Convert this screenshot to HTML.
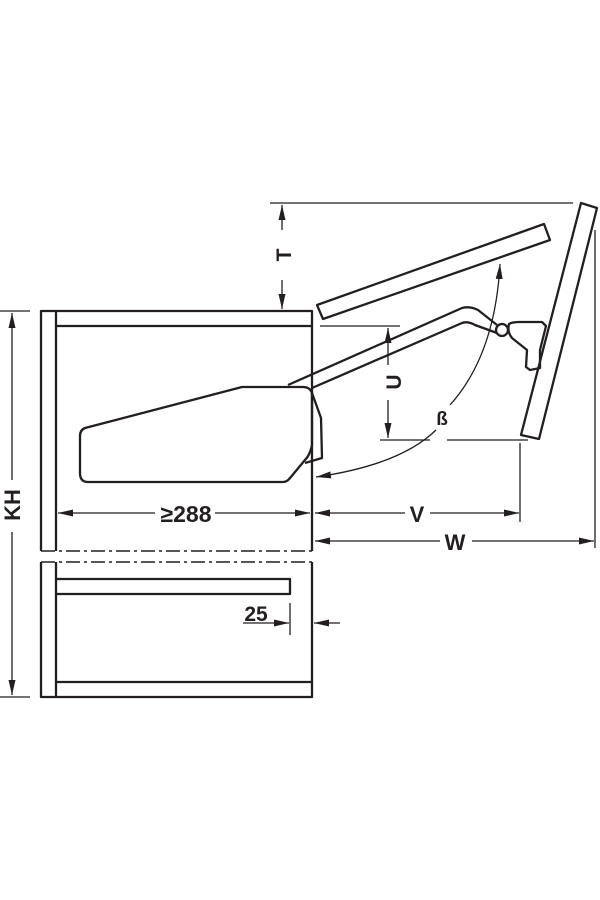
<!DOCTYPE html>
<html><head><meta charset="utf-8"><style>
html,body{margin:0;padding:0;background:#fff;}
svg{display:block;}
text{font-family:"Liberation Sans",sans-serif;font-weight:bold;fill:#231f20;}
</style></head><body>
<svg width="600" height="900" viewBox="0 0 600 900" xmlns="http://www.w3.org/2000/svg">
<defs>
<marker id="a" markerWidth="15" markerHeight="7" refX="15" refY="3.5" orient="auto" markerUnits="userSpaceOnUse">
<path d="M0,0 L15,3.5 L0,7 Z" fill="#231f20"/></marker>
</defs>
<g stroke="#231f20" fill="none" stroke-width="2.3" stroke-linejoin="round">
<path d="M41,551 L41,311 L312,311 L312,551"/>
<line x1="56" y1="311" x2="56" y2="551"/>
<line x1="56" y1="326" x2="312" y2="326"/>
<line x1="41" y1="551" x2="312" y2="551" stroke-dasharray="14,4,3,4" stroke-width="1.5"/>
<path d="M41,562 L41,697 L312,697 L312,562"/>
<line x1="41" y1="562" x2="312" y2="562" stroke-dasharray="14,4,3,4" stroke-width="1.5"/>
<line x1="56" y1="562" x2="56" y2="697"/>
<line x1="56" y1="682" x2="312" y2="682"/>
<path d="M56,579 L290,579 L290,594 L56,594"/>
<path d="M85,428 Q80,430 80,436 L80,473 Q80,482 88,482 L283,482 Q287,482 290,478 L305,460 Q310,455 312,445 L312,393 Q310,387 303,387 L242,387 Z"/>
<path d="M312,393 L321,418 L322,458 L305,463"/>
<path d="M288,385 L462,308 Q470,306 478,310 L497,325"/>
<path d="M312,388 L462,323 Q468,321 475,325 L497,333"/>
<circle cx="502" cy="330" r="6"/>
<path d="M509,324 Q512,322 520,322 L542,322 L546,326 L540,350 L540,368 L530,370 L526,367 L527,350 L512,338 Q507,332 509,324 Z"/>
<path d="M317,305 L544,224 L550,240 L323,319 Z"/>
<path d="M581,203 L597,208 L539,439 L521,435 Z"/>
</g>
<g stroke="#231f20" fill="none" stroke-width="1.3">
<line x1="270" y1="203" x2="573" y2="203"/>
<line x1="282" y1="230" x2="282" y2="205" marker-end="url(#a)"/>
<line x1="282" y1="280" x2="282" y2="309" marker-end="url(#a)"/>
<line x1="320" y1="326" x2="400" y2="326"/>
<line x1="380" y1="440" x2="430" y2="440"/>
<line x1="447" y1="440" x2="528" y2="440"/>
<line x1="388" y1="365" x2="388" y2="328" marker-end="url(#a)"/>
<line x1="388" y1="400" x2="388" y2="438" marker-end="url(#a)"/>
<path d="M436,430 Q400,465 316,477" marker-end="url(#a)"/>
<path d="M450,405 Q495,355 500,264" marker-end="url(#a)"/>
<line x1="520" y1="443" x2="520" y2="522"/>
<line x1="595" y1="230" x2="595" y2="548"/>
<line x1="405" y1="513" x2="315" y2="513" marker-end="url(#a)"/>
<line x1="430" y1="513" x2="519" y2="513" marker-end="url(#a)"/>
<line x1="440" y1="541" x2="315" y2="541" marker-end="url(#a)"/>
<line x1="472" y1="541" x2="594" y2="541" marker-end="url(#a)"/>
<line x1="155" y1="513" x2="58" y2="513" marker-end="url(#a)"/>
<line x1="215" y1="513" x2="310" y2="513" marker-end="url(#a)"/>
<line x1="0" y1="311" x2="30" y2="311"/>
<line x1="0" y1="697" x2="30" y2="697"/>
<line x1="12" y1="480" x2="12" y2="313" marker-end="url(#a)"/>
<line x1="12" y1="532" x2="12" y2="695" marker-end="url(#a)"/>
<line x1="243" y1="623" x2="289" y2="623" marker-end="url(#a)"/>
<line x1="290" y1="603" x2="290" y2="635"/>
<line x1="340" y1="623" x2="314" y2="623" marker-end="url(#a)"/>
</g>
<text x="284" y="255" font-size="21" text-anchor="middle" transform="rotate(-90 284 255)" dy="7">T</text>
<text x="394" y="382" font-size="21" text-anchor="middle" transform="rotate(-90 394 382)" dy="7">U</text>
<text x="442" y="425" font-size="19" text-anchor="middle">ß</text>
<text x="417" y="522" font-size="22" text-anchor="middle">V</text>
<text x="455" y="550" font-size="22" text-anchor="middle">W</text>
<text x="186" y="522" font-size="23" text-anchor="middle">≥288</text>
<text x="256" y="621" font-size="21" text-anchor="middle">25</text>
<text x="12" y="505" font-size="22" text-anchor="middle" transform="rotate(-90 12 505)" dy="8">KH</text>
</svg>
</body></html>
